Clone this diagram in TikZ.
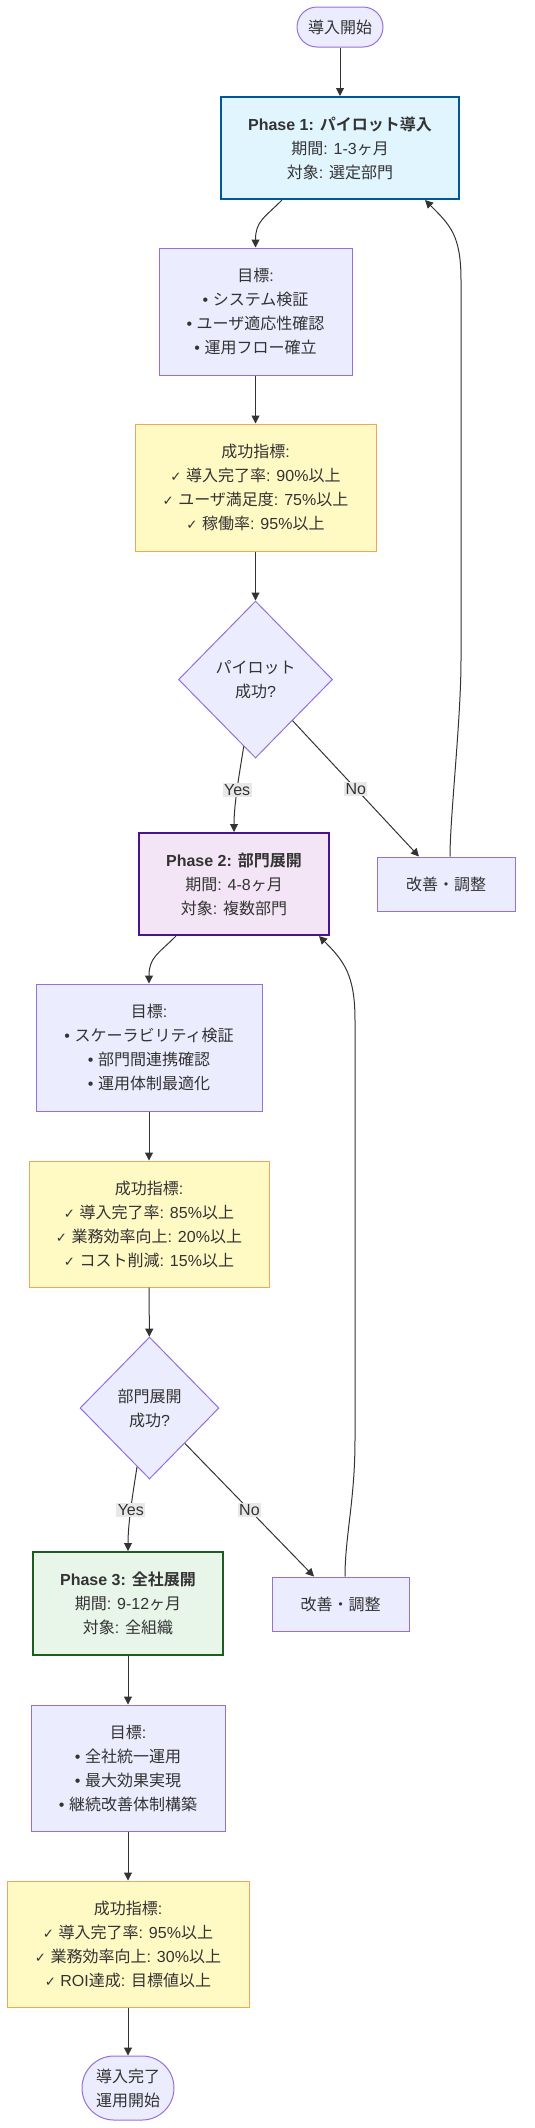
\documentclass[tikz,border=0pt]{standalone}
\usepackage{fontspec}
\setmainfont{Liberation Sans}
\newfontfamily\cjkfamily{Noto Sans CJK JP}[BoldFont={Noto Sans CJK JP Bold}]
\newfontfamily\symfamily{DejaVu Sans}
\usetikzlibrary{arrows.meta, positioning, shapes.geometric, calc}

% CJK letters switch to the CJK font by themselves
\XeTeXinterchartokenstate=1
\newXeTeXintercharclass\cjkclass
\newcommand{\setcjkrange}[2]{%
  \count255=#1
  \loop \XeTeXcharclass\count255=\cjkclass
    \ifnum\count255<#2 \advance\count255 by 1 \repeat}
\setcjkrange{"3000}{"30FF}
\setcjkrange{"4E00}{"9FFF}
\setcjkrange{"FF00}{"FFEF}
\XeTeXinterchartoks 0 \cjkclass = {\cjkfamily}
\XeTeXinterchartoks 4095 \cjkclass = {\cjkfamily}
\XeTeXinterchartoks \cjkclass 0 = {\rmfamily}
\XeTeXinterchartoks \cjkclass 4095 = {\rmfamily}
\newcommand{\ck}{{\symfamily\fontsize{10}{18}\selectfont ✓}}

\definecolor{ctext}{HTML}{333333}
\definecolor{cnode}{HTML}{ECECFF}
\definecolor{cnodeline}{HTML}{9370DB}
\definecolor{cblue}{HTML}{01579B}
\definecolor{cbluebg}{HTML}{E1F5FE}
\definecolor{cpurple}{HTML}{4A148C}
\definecolor{cpurplebg}{HTML}{F3E5F5}
\definecolor{cgreen}{HTML}{1B5E20}
\definecolor{cgreenbg}{HTML}{E8F5E9}
\definecolor{corange}{HTML}{F5A55A}
\definecolor{cyellow}{HTML}{FFF9C4}
\definecolor{clabel}{HTML}{E8E8E8}
\tikzset{
  every picture/.style={line width=0.75pt},
  flowbox/.style={align=center, inner sep=0pt, text=ctext, font=\fontsize{12}{18}\selectfont},
  wh/.style 2 args={minimum width=#1*0.75pt, minimum height=#2*0.75pt},
  plain/.style={flowbox, draw=cnodeline, fill=cnode},
  term/.style={plain, rounded corners=#1},
  phase/.style={flowbox, draw=#1, fill=#1bg, line width=1.5pt},
  metric/.style={flowbox, draw=corange, fill=cyellow},
  decision/.style={plain, diamond, aspect=1},
  arrow/.style={-{Triangle[length=6pt, width=6pt]}, draw=ctext},
  elab/.style={flowbox, fill=clabel, inner sep=1pt},
}

\begin{document}
\begin{tikzpicture}[x=0.75pt, y=-0.75pt]
  \useasboundingbox (0,0) rectangle (535,2128);

  % ---- phase 1
  \node[term=15pt, wh={86}{40}] (start) at (340,27) {導入開始};
  \node[phase=cblue, wh={238}{102}] (p1) at (340,148) {\textbf{Phase 1: パイロット導入}\\期間: 1-3ヶ月\\対象: 選定部門};
  \node[plain, wh={193}{127}] (goal1) at (255.5,311.5) {目標:\\• システム検証\\• ユーザ適応性確認\\• 運用フロー確立};
  \node[metric, wh={241}{127}] (met1) at (255.5,487.5) {成功指標:\\\ck{} 導入完了率: 90\%以上\\\ck{} ユーザ満足度: 75\%以上\\\ck{} 稼働率: 95\%以上};
  \node[decision, wh={154}{157}] (dec1) at (255.5,679.5) {パイロット\\成功?};
  \node[plain, wh={138}{54}] (kai1) at (446,884) {改善・調整};

  % ---- phase 2
  \node[phase=cpurple, wh={190}{102}] (p2) at (234,884) {\textbf{Phase 2: 部門展開}\\期間: 4-8ヶ月\\対象: 複数部門};
  \node[plain, wh={226}{127}] (goal2) at (149,1047.5) {目標:\\• スケーラビリティ検証\\• 部門間連携確認\\• 運用体制最適化};
  \node[metric, wh={240}{126}] (met2) at (149,1224) {成功指標:\\\ck{} 導入完了率: 85\%以上\\\ck{} 業務効率向上: 20\%以上\\\ck{} コスト削減: 15\%以上};
  \node[decision, wh={139}{142}] (dec2) at (149.5,1408) {部門展開\\成功?};
  \node[plain, wh={137}{54}] (kai2) at (340.5,1604) {改善・調整};

  % ---- phase 3
  \node[phase=cgreen, wh={190}{103}] (p3) at (128,1603.5) {\textbf{Phase 3: 全社展開}\\期間: 9-12ヶ月\\対象: 全組織};
  \node[plain, wh={194}{126}] (goal3) at (128,1768) {目標:\\• 全社統一運用\\• 最大効果実現\\• 継続改善体制構築};
  \node[metric, wh={242}{126}] (met3) at (128,1944) {成功指標:\\\ck{} 導入完了率: 95\%以上\\\ck{} 業務効率向上: 30\%以上\\\ck{} ROI達成: 目標値以上};
  \node[term=24pt, wh={92}{64}] (finish) at (128,2088) {導入完了\\運用開始};

  % bends of the two loops back
  \coordinate (back1bot) at (461,660);
  \coordinate (back1top) at (461,280);
  \coordinate (back2bot) at (355,1440);
  \coordinate (back2top) at (355,1020);

  \draw[arrow] (start) -- (p1);
  \draw[arrow] ($(p1.south)+(-58,0)$) .. controls +(-18,18) and +(0,-26) .. (goal1.north);
  \draw[arrow] (goal1) -- (met1);
  \draw[arrow] (met1) -- (dec1);
  \draw[arrow] (dec1.-100) .. controls +(-3,20) and +(0,-30) .. node[elab, pos=0.55] {Yes} (p2.north);
  \draw[arrow] (dec1.-48) -- node[elab] {No} ($(kai1.north)+(-27,0)$);
  \draw[arrow] ($(kai1.north)+(4,0)$) .. controls +(0,-40) and +(0,60) .. (back1bot) -- (back1top)
    .. controls +(0,-45) and +(25,25) .. ($(p1.south)+(85,0)$);

  \draw[arrow] ($(p2.south)+(-58,0)$) .. controls +(-18,18) and +(0,-26) .. (goal2.north);
  \draw[arrow] (goal2) -- (met2);
  \draw[arrow] (met2) -- (dec2);
  \draw[arrow] (dec2.-102) .. controls +(-3,20) and +(0,-30) .. node[elab, pos=0.55] {Yes} (p3.north);
  \draw[arrow] (dec2.-45) -- node[elab] {No} ($(kai2.north)+(-26.5,0)$);
  \draw[arrow] ($(kai2.north)+(4.5,0)$) .. controls +(0,-40) and +(0,60) .. (back2bot) -- (back2top)
    .. controls +(0,-45) and +(25,25) .. ($(p2.south)+(85,0)$);

  \draw[arrow] (p3) -- (goal3);
  \draw[arrow] (goal3) -- (met3);
  \draw[arrow] (met3) -- (finish);
\end{tikzpicture}
\end{document}
